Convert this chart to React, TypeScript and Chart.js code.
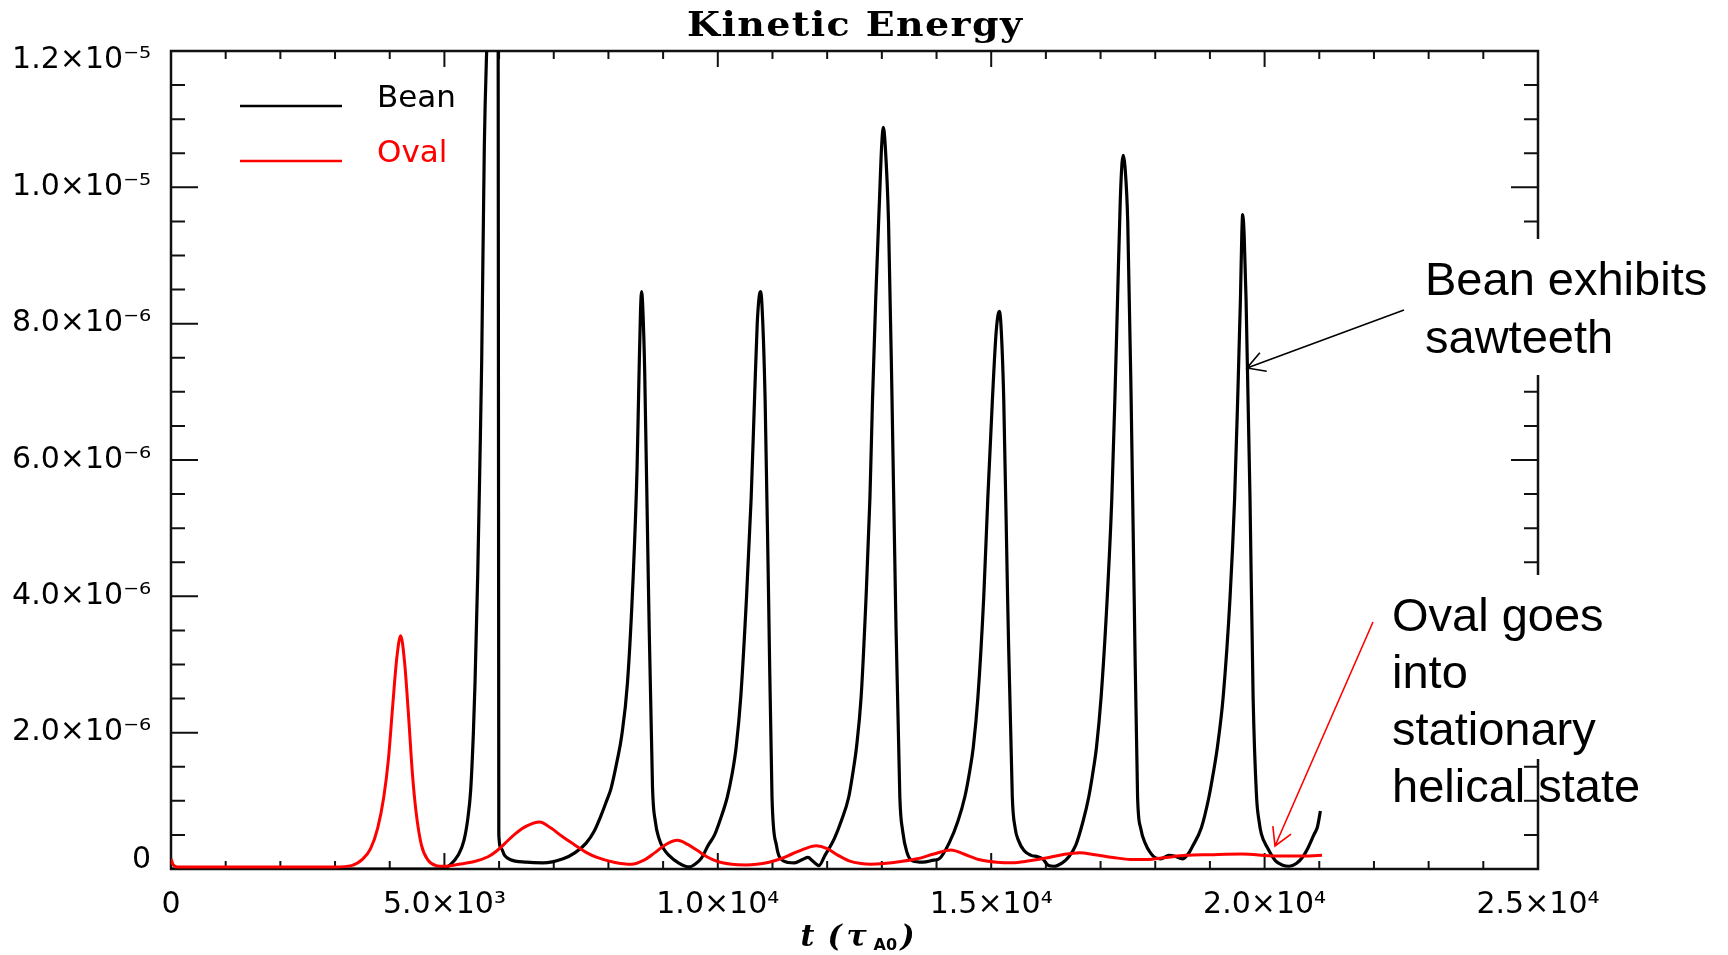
import React, { useEffect, useRef } from "react";
import { Chart, registerables } from "chart.js";

Chart.register(...registerables);

// Kinetic energy in units of 1e-6, time in tau_A0
const beanTime = [
  0, 1000, 2000, 3000, 4000, 4800, 5000, 5103, 5250, 5358, 5430, 5481, 5530, 5560, 5609, 5650, 5682, 5730, 5773, 5850, 5920, 5980,
  5995, 6040, 6100, 6200, 6500, 6800,
  7171, 7391, 7592, 7736, 7872, 7966, 8047, 8162, 8242, 8348, 8453, 8523, 8558, 8587, 8607,
  8630, 8663, 8728, 8806, 8857, 8924, 9007, 9107, 9280, 9480,
  9600, 9700, 9826, 9941, 10035, 10175, 10263, 10336, 10420, 10525, 10610, 10672, 10721, 10757, 10779,
  10806, 10865, 10929, 10991, 11072, 11199, 11400, 11550, 11650, 11730, 11850,
  11960, 12133, 12256, 12396, 12478, 12537, 12621, 12711, 12782, 12830, 12888, 12957, 12996, 13027,
  13063, 13122, 13186, 13249, 13329, 13382, 13457, 13557, 13750, 13950, 14050,
  14230, 14391, 14518, 14610, 14673, 14757, 14863, 14938, 15023, 15093, 15148,
  15177, 15229, 15300, 15386, 15438, 15498, 15600, 15730, 15850, 15940, 16050, 16150,
  16300, 16420, 16547, 16680, 16785, 16857, 16926, 17010, 17122, 17206, 17262, 17311, 17361, 17392, 17416,
  17447, 17497, 17559, 17615, 17677, 17733, 17826, 17900, 18010, 18100, 18250, 18350, 18500, 18600,
  18680, 18842, 18983, 19060, 19137, 19242, 19368, 19452, 19508, 19558, 19583, 19599,
  19626, 19661, 19733, 19790, 19853, 19899, 19939, 20060, 20200, 20320, 20450, 20580, 20700, 20800, 20900, 20967, 21020,
];
const beanEnergy = [
  0, 0, 0, 0, 0, 0, 0.01, 0.06, 0.2, 0.42, 0.75, 1.16, 2.0, 2.73, 4.3, 6.0, 7.45, 10.6, 12.0, 13.6, 14.6, 15.2,
  0.5, 0.3, 0.2, 0.14, 0.1, 0.09,
  0.15, 0.24, 0.38, 0.55, 0.8, 1.0, 1.18, 1.6, 1.95, 2.73, 4.3, 5.87, 7.2, 8.2, 8.47,
  8.2, 7.3, 4.3, 1.2, 0.7, 0.45, 0.3, 0.2, 0.09, 0.03,
  0.08, 0.16, 0.35, 0.5, 0.7, 1.06, 1.4, 1.79, 2.52, 3.98, 5.44, 6.9, 8.0, 8.4, 8.47,
  8.3, 6.9, 3.98, 1.06, 0.35, 0.12, 0.09, 0.14, 0.17, 0.12, 0.05,
  0.2, 0.45, 0.7, 1.06, 1.45, 1.79, 2.52, 3.98, 5.44, 6.9, 8.36, 9.82, 10.6, 10.88,
  10.6, 9.5, 6.9, 3.98, 1.06, 0.55, 0.25, 0.12, 0.1, 0.13, 0.15,
  0.38, 0.7, 1.06, 1.45, 1.79, 2.52, 3.98, 5.44, 6.9, 7.9, 8.18,
  8.0, 6.9, 3.98, 1.06, 0.6, 0.42, 0.27, 0.2, 0.18, 0.15, 0.05, 0.04,
  0.09, 0.18, 0.35, 0.7, 1.06, 1.4, 1.79, 2.52, 3.98, 5.44, 6.9, 8.36, 9.82, 10.35, 10.47,
  10.3, 9.5, 6.9, 3.98, 1.06, 0.6, 0.36, 0.25, 0.16, 0.15, 0.2, 0.19, 0.15, 0.22,
  0.33, 0.6, 1.06, 1.4, 1.79, 2.52, 3.98, 5.44, 6.9, 8.36, 9.3, 9.6,
  9.3, 8.36, 5.44, 2.52, 1.06, 0.7, 0.52, 0.3, 0.12, 0.06, 0.04, 0.08, 0.18, 0.32, 0.5, 0.62, 0.85,
];

const ovalTime = [
  0, 40, 120, 1000, 2000, 3000, 3300, 3500, 3650, 3780, 3890, 3975, 4055, 4130, 4200, 4270, 4340, 4415, 4480, 4580, 4700, 4850,
  5000, 5267, 5550, 5797, 5950, 6112, 6300, 6500, 6741, 6950, 7150, 7370, 7600, 7790, 8100, 8421, 8650, 8850, 9050, 9261, 9450,
  9629, 9800, 9996, 10250, 10516, 10938, 11150, 11357, 11600, 11800, 12000, 12200, 12400, 12620, 12800, 13032, 13350, 13645, 13950,
  14262, 14500, 14773, 15100, 15382, 15700, 16002, 16300, 16616, 16900, 17227, 17550, 17846, 18200, 18562, 19000, 19586, 20200,
  20600, 21050,
];
const ovalEnergy = [
  0.15, 0.06, 0.03, 0.03, 0.03, 0.03, 0.05, 0.14, 0.3, 0.6, 1.05, 1.6, 2.4, 3.1, 3.42, 3.05, 2.3, 1.4, 0.85, 0.35, 0.13, 0.05,
  0.04, 0.07, 0.11, 0.18, 0.26, 0.38, 0.52, 0.63, 0.69, 0.6, 0.48, 0.36, 0.24, 0.17, 0.1, 0.07, 0.13, 0.24, 0.36, 0.42, 0.36,
  0.27, 0.18, 0.11, 0.07, 0.06, 0.1, 0.15, 0.22, 0.3, 0.34, 0.3, 0.2, 0.12, 0.08, 0.07, 0.08, 0.11, 0.15, 0.22,
  0.28, 0.22, 0.14, 0.1, 0.09, 0.12, 0.16, 0.21, 0.24, 0.21, 0.17, 0.14, 0.14, 0.17, 0.2, 0.21, 0.22, 0.19,
  0.19, 0.2,
];

const yTickValues = [0, 2, 4, 6, 8, 10, 12];
const yTickLabels = ["0", "2.0×10⁻⁶", "4.0×10⁻⁶", "6.0×10⁻⁶", "8.0×10⁻⁶", "1.0×10⁻⁵", "1.2×10⁻⁵"];
const xTickValues = [0, 5000, 10000, 15000, 20000, 25000];
const xTickLabels = ["0", "5.0×10³", "1.0×10⁴", "1.5×10⁴", "2.0×10⁴", "2.5×10⁴"];
const seriesNames = ["Bean", "Oval"];
const seriesColors = ["#000000", "#ff0000"];
const titleText = "Kinetic Energy";
const beanNote = ["Bean exhibits", "sawteeth"];
const ovalNote = ["Oval goes", "into", "stationary", "helical state"];

function drawArrow(ctx: CanvasRenderingContext2D, x1: number, y1: number, x2: number, y2: number, color: string) {
  ctx.save();
  ctx.strokeStyle = color;
  ctx.lineWidth = 1.6;
  ctx.beginPath();
  ctx.moveTo(x1, y1);
  ctx.lineTo(x2, y2);
  const ang = Math.atan2(y1 - y2, x1 - x2);
  const h = 20;
  const s = 0.52;
  ctx.moveTo(x2 + h * Math.cos(ang + s), y2 + h * Math.sin(ang + s));
  ctx.lineTo(x2, y2);
  ctx.lineTo(x2 + h * Math.cos(ang - s), y2 + h * Math.sin(ang - s));
  ctx.stroke();
  ctx.restore();
}

const framePlugin = {
  id: "idlFrame",
  beforeDatasetsDraw(chart: any) {
    const { ctx, chartArea: a, scales } = chart;
    const x = scales.x;
    const y = scales.y;
    ctx.save();
    ctx.strokeStyle = "#111";
    ctx.lineWidth = 2;
    ctx.beginPath();
    for (let t = 0; t <= 25000; t += 1000) {
      const px = x.getPixelForValue(t);
      const len = t % 5000 === 0 ? 16 : 8;
      ctx.moveTo(px, a.bottom);
      ctx.lineTo(px, a.bottom - len);
      ctx.moveTo(px, a.top);
      ctx.lineTo(px, a.top + len);
    }
    for (let v = 0; v <= 12; v += 0.5) {
      const py = y.getPixelForValue(v);
      const len = v % 2 === 0 ? 27 : 14;
      ctx.moveTo(a.left, py);
      ctx.lineTo(a.left + len, py);
      ctx.moveTo(a.right, py);
      ctx.lineTo(a.right - len, py);
    }
    ctx.stroke();
    ctx.lineWidth = 2.5;
    ctx.strokeRect(a.left, a.top, a.right - a.left, a.bottom - a.top);
    ctx.restore();
  },
  afterDraw(chart: any) {
    const { ctx, chartArea: a } = chart;
    ctx.save();

    // white boxes of the annotations (they hide parts of the right axis)
    ctx.fillStyle = "#ffffff";
    ctx.fillRect(1415, 239, 313, 136);
    ctx.fillRect(1385, 575, 343, 184);

    // annotation text
    ctx.fillStyle = "#000";
    ctx.font = "47px 'Liberation Sans', Arial, sans-serif";
    ctx.textAlign = "left";
    ctx.textBaseline = "alphabetic";
    beanNote.forEach((s, i) => ctx.fillText(s, 1425, 295 + i * 57.5));
    ovalNote.forEach((s, i) => ctx.fillText(s, 1392, 631 + i * 57));

    // arrows
    drawArrow(ctx, 1404, 310, 1247, 368, "#000");
    drawArrow(ctx, 1373, 622, 1275, 846, "#ff0000");

    // legend
    ctx.lineWidth = 2.5;
    ctx.font = "31px 'DejaVu Sans', sans-serif";
    seriesNames.forEach((name, i) => {
      const ly = 106 + i * 55;
      ctx.strokeStyle = seriesColors[i];
      ctx.beginPath();
      ctx.moveTo(240, ly);
      ctx.lineTo(342, ly);
      ctx.stroke();
      ctx.fillStyle = seriesColors[i];
      ctx.fillText(name, 377, ly + 1);
    });

    // title
    ctx.fillStyle = "#000";
    ctx.font = "bold 33px 'DejaVu Serif', serif";
    const cx = (a.left + a.right) / 2;
    const target = 335;
    const natural = ctx.measureText(titleText).width;
    const sx = Math.min(1.15, target / natural);
    const chars = titleText.split("");
    const widths = chars.map((c) => ctx.measureText(c).width);
    const extra = (target / sx - natural) / (chars.length - 1);
    ctx.save();
    ctx.translate(cx - target / 2, 36);
    ctx.scale(sx, 1);
    let tx = 0;
    chars.forEach((c, i) => {
      ctx.fillText(c, tx, 0);
      tx += widths[i] + extra;
    });
    ctx.restore();

    // x axis title: t (tau_A0)
    const base = 946;
    ctx.font = "bold italic 30px 'DejaVu Serif', serif";
    ctx.fillText("t", cx - 54, base);
    ctx.fillText("(", cx - 27, base);
    ctx.fillText("τ", cx - 8, base);
    ctx.fillText(")", cx + 46, base);
    ctx.font = "bold 16px 'DejaVu Sans', sans-serif";
    ctx.fillText("A0", cx + 19, base + 4);

    ctx.restore();
  },
};

export default function App() {
  const ref = useRef<HTMLCanvasElement>(null);
  useEffect(() => {
    const canvas = ref.current;
    if (!canvas) return;
    const chart = new Chart(canvas, {
      type: "line",
      data: {
        datasets: [
          {
            label: seriesNames[1],
            data: ovalTime.map((t, i) => ({ x: t, y: ovalEnergy[i] })),
            borderColor: seriesColors[1],
            borderWidth: 3,
            pointRadius: 0,
            fill: false,
            cubicInterpolationMode: "monotone",
            order: 0,
          },
          {
            label: seriesNames[0],
            data: beanTime.map((t, i) => ({ x: t, y: beanEnergy[i] })),
            borderColor: seriesColors[0],
            borderWidth: 3.2,
            pointRadius: 0,
            fill: false,
            cubicInterpolationMode: "monotone",
            order: 1,
          },
        ],
      },
      options: {
        animation: false,
        responsive: false,
        events: [],
        layout: { padding: { left: 0, right: 190, top: 51, bottom: 0 } },
        plugins: {
          legend: { display: false },
          title: { display: false },
          tooltip: { enabled: false },
        },
        scales: {
          x: {
            type: "linear",
            min: 0,
            max: 25000,
            afterFit: (s: any) => {
              s.height = 86;
            },
            grid: { display: false },
            border: { display: false },
            ticks: {
              stepSize: 5000,
              autoSkip: false,
              maxRotation: 0,
              padding: 10,
              color: "#000",
              font: { family: "'DejaVu Sans', sans-serif", size: 30 },
              callback: (v: any) => {
                const i = xTickValues.indexOf(Number(v));
                return i >= 0 ? xTickLabels[i] : "";
              },
            },
          },
          y: {
            type: "linear",
            min: 0,
            max: 12,
            afterFit: (s: any) => {
              s.width = 171;
            },
            grid: { display: false },
            border: { display: false },
            ticks: {
              stepSize: 2,
              autoSkip: false,
              padding: 12,
              color: "#000",
              font: { family: "'DejaVu Sans', sans-serif", size: 30, lineHeight: "18px" },
              callback: (v: any) => {
                const i = yTickValues.indexOf(Number(v));
                if (i < 0) return "";
                // the end labels sit slightly inside the axis range, as in the original plot
                if (i === 0) return [yTickLabels[i], ""];
                if (i === yTickValues.length - 1) return ["", yTickLabels[i]];
                return yTickLabels[i];
              },
            },
          },
        },
      },
      plugins: [framePlugin],
    } as any);
    return () => chart.destroy();
  }, []);
  return (
    <div style={{ position: "absolute", left: 0, top: 0, width: 1728, height: 955, background: "#fff" }}>
      <canvas ref={ref} width={1728} height={955} style={{ display: "block" }} />
    </div>
  );
}
